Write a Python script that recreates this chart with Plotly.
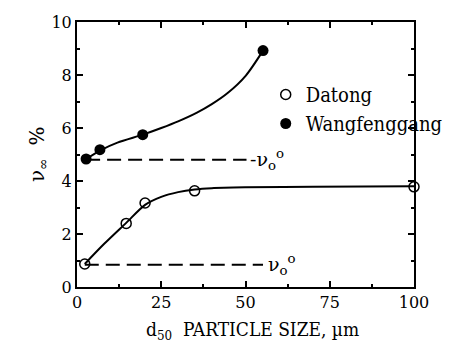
import plotly.graph_objects as go

# Data
datong_x = [2.3, 14.6, 20.2, 34.9, 100]
datong_y = [0.87, 2.4, 3.17, 3.63, 3.78]
wang_x = [2.7, 6.8, 19.5, 55.2]
wang_y = [4.83, 5.18, 5.75, 8.92]

# smooth fitted curves as drawn in the picture
datong_curve_x = [2.3, 8, 14.6, 20.2, 25, 30, 34.9, 40, 50, 70, 100]
datong_curve_y = [0.87, 1.62, 2.42, 3.1, 3.4, 3.58, 3.68, 3.73, 3.76, 3.78, 3.8]
wang_curve_x = [2.7, 6.8, 12, 19.5, 25, 30, 35.6, 40, 44.7, 50.1, 55.2]
wang_curve_y = [4.83, 5.15, 5.45, 5.75, 6.0, 6.25, 6.58, 6.9, 7.32, 7.98, 8.92]

# reference levels nu_o^o
ref_upper = 4.8
ref_upper_x = [2.7, 50.3]
ref_lower = 0.84
ref_lower_x = [2.3, 55.2]

x_ticks = [0, 25, 50, 75, 100]
y_ticks = [0, 2, 4, 6, 8, 10]

SERIF = "DejaVu Serif"
COND = "DejaVu Serif Condensed, DejaVu Serif"

fig = go.Figure()

fig.add_trace(go.Scatter(x=ref_upper_x, y=[ref_upper] * 2, mode="lines",
                         line=dict(color="black", width=2, dash="14px,7px"),
                         showlegend=False))
fig.add_trace(go.Scatter(x=ref_lower_x, y=[ref_lower] * 2, mode="lines",
                         line=dict(color="black", width=2, dash="14px,7px"),
                         showlegend=False))

fig.add_trace(go.Scatter(x=datong_curve_x, y=datong_curve_y, mode="lines",
                         line=dict(color="black", width=2, shape="spline", smoothing=0.8),
                         showlegend=False))
fig.add_trace(go.Scatter(x=wang_curve_x, y=wang_curve_y, mode="lines",
                         line=dict(color="black", width=2, shape="spline", smoothing=0.8),
                         showlegend=False))

fig.add_trace(go.Scatter(x=datong_x, y=datong_y, mode="markers", name="Datong",
                         marker=dict(symbol="circle-open", size=10, color="black",
                                     line=dict(width=1.5, color="black")),
                         cliponaxis=False))
fig.add_trace(go.Scatter(x=wang_x, y=wang_y, mode="markers", name="Wangfenggang",
                         marker=dict(symbol="circle", size=11, color="black"),
                         cliponaxis=False))

fig.add_annotation(x=ref_upper_x[1], y=ref_upper, xref="x", yref="y",
                   text="-ν<sub>o</sub><sup>o</sup>", showarrow=False,
                   xanchor="left", yanchor="middle", xshift=1,
                   font=dict(family=SERIF, size=19, color="black"))
fig.add_annotation(x=ref_lower_x[1], y=ref_lower, xref="x", yref="y",
                   text="ν<sub>o</sub><sup>o</sup>", showarrow=False,
                   xanchor="left", yanchor="middle", xshift=3,
                   font=dict(family=SERIF, size=19, color="black"))

# axis titles as annotations for exact placement
fig.add_annotation(x=-0.117, y=0.5, xref="paper", yref="paper",
                   text="ν<sub>∞</sub>  %", textangle=-90, showarrow=False,
                   xanchor="center", yanchor="middle",
                   font=dict(family=SERIF, size=20, color="black"))
fig.add_annotation(x=0.52, y=-0.163, xref="paper", yref="paper",
                   text="d<sub>50</sub>  PARTICLE SIZE, µm", showarrow=False,
                   xanchor="center", yanchor="middle",
                   font=dict(family=COND, size=19, color="black"))

axis_common = dict(
    showline=True, linecolor="black", linewidth=2, mirror="ticks",
    ticks="inside", ticklen=6, tickwidth=2, tickcolor="black",
    showgrid=False, zeroline=False, automargin=False,
    tickfont=dict(family=SERIF, size=16, color="black"),
)

fig.update_xaxes(range=[0, 100], tickvals=x_ticks,
                 minor=dict(dtick=12.5, ticks="inside", ticklen=3, tickwidth=1.5, tickcolor="black"),
                 **axis_common)
fig.update_yaxes(range=[0, 10], tickvals=y_ticks,
                 minor=dict(dtick=1, ticks="inside", ticklen=3, tickwidth=1.5, tickcolor="black"),
                 **axis_common)

fig.update_layout(
    width=452, height=343,
    margin=dict(l=69, r=15, t=14, b=64),
    plot_bgcolor="white", paper_bgcolor="white",
    legend=dict(x=0.56, y=0.8, xanchor="left", yanchor="top",
                font=dict(family=COND, size=20, color="black"),
                bgcolor="rgba(0,0,0,0)", itemwidth=30, tracegroupgap=0),
    font=dict(family=SERIF, color="black"),
)

fig.write_html("out.html")
